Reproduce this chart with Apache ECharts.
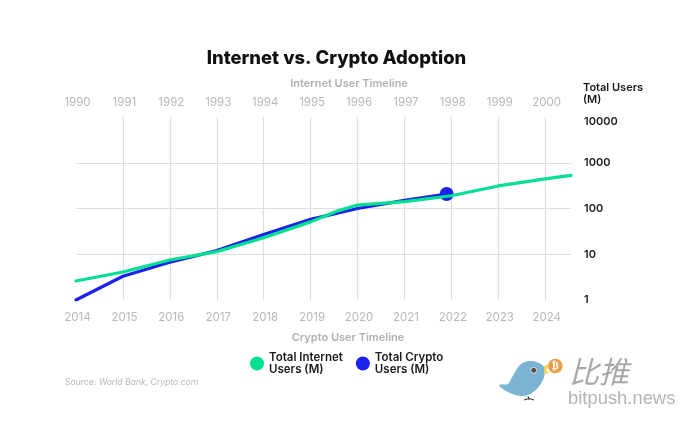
<!DOCTYPE html>
<html>
<head>
<meta charset="utf-8">
<style>html,body{margin:0;padding:0;background:#fff}#main{width:696px;height:426px}</style>
<script src="https://cdn.jsdelivr.net/npm/echarts@6/dist/echarts.min.js"></script>
</head>
<body>
<div id="main"></div>
<script>
const cryptoYears = [2014,2015,2016,2017,2018,2019,2020,2021,2022,2023,2024];
const internetYears = [1990,1991,1992,1993,1994,1995,1996,1997,1998,1999,2000];
const userTicks = [1,10,100,1000,10000];

// 互联网曲线的x都按加密货币时间轴的年份来读
const internetX = [2014,2015,2016,2017,2018,2019,2019.6,2020,2021,2022,2023,2024,2024.55];
const internetUsers = [2.6,4.1,7.5,11.4,23,51,90,119,141,190,311,445,530];
const cryptoX = [2014,2015,2016,2017,2018,2019,2020,2021,2021.9];
const cryptoUsers = [1,3.3,6.7,12,27,58,100,150,207];

const GREEN = '#00e090';
const BLUE = '#1a22ee';
const FONT = 'Inter';
const pairs = (xs, ys) => xs.map((x, i) => [x, ys[i]]);
const yearLabel = (list) => (v) => list.includes(v) ? String(v) : '';

const myChart = echarts.init(document.getElementById('main'));
const gray = (text, x, y, size) => ({
  type: 'text', x, y,
  style: { text, fill: '#b0b0b0', font: `600 ${size}px ${FONT}`, textAlign: 'center', textVerticalAlign: 'middle' }
});
myChart.setOption({
  animation: false,
  backgroundColor: '#fff',
  title: {
    text: 'Internet vs. Crypto Adoption',
    left: 331.5, top: 44, textAlign: 'center',
    textStyle: { fontFamily: FONT, fontSize: 18.4, fontWeight: 800, color: '#111' }
  },
  grid: { left: 76, right: 125, top: 117, bottom: 126 },
  legend: {
    left: 245, top: 346, itemWidth: 14, itemHeight: 14, itemGap: 13,
    data: [
      { name: 'Total Internet\nUsers (M)', icon: 'circle' },
      { name: 'Total Crypto\nUsers (M)', icon: 'circle' }
    ],
    textStyle: { fontFamily: FONT, fontSize: 11.5, fontWeight: 600, color: '#1a1a1a', lineHeight: 12.5 }
  },
  xAxis: [
    {
      type: 'value', position: 'bottom', min: 2014, max: 2024.55, interval: 1,
      axisLine: { show: false }, axisTick: { show: false },
      axisLabel: { formatter: yearLabel(cryptoYears), color: '#b8b8b8', fontFamily: FONT, fontSize: 11.5, margin: 12, padding: [0, 0, 0, 3] },
      splitLine: { show: true, showMinLine: false, showMaxLine: false, lineStyle: { color: '#dedede', width: 1.2 } }
    },
    {
      type: 'value', position: 'top', min: 1990, max: 2000.55, interval: 1,
      axisLine: { show: false }, axisTick: { show: false },
      axisLabel: { formatter: yearLabel(internetYears), color: '#b8b8b8', fontFamily: FONT, fontSize: 11.5, margin: 8, padding: [0, 0, 0, 3] },
      splitLine: { show: false }
    }
  ],
  yAxis: {
    type: 'log', logBase: 10, position: 'right', min: 1, max: 10000,
    axisLine: { show: false }, axisTick: { show: false }, minorTick: { show: false },
    axisLabel: {
      margin: 13,
      formatter: (v) => userTicks.includes(v) ? (v === 10000 ? `{top|${v}}` : String(v)) : '',
      color: '#222', fontFamily: FONT, fontSize: 11, fontWeight: 600,
      rich: { top: { padding: [9, 0, 0, 0], color: '#222', fontFamily: FONT, fontSize: 11, fontWeight: 600 } }
    },
    splitLine: { show: true, showMinLine: false, showMaxLine: false, lineStyle: { color: '#dedede', width: 1.2 } }
  },
  series: [
    {
      name: 'Total Internet\nUsers (M)', type: 'line', data: pairs(internetX, internetUsers), z: 3,
      symbol: 'none', color: GREEN, lineStyle: { width: 3.2, color: GREEN, cap: 'round' }
    },
    {
      name: 'Total Crypto\nUsers (M)', type: 'line', data: pairs(cryptoX, cryptoUsers), z: 2,
      showSymbol: true, showAllSymbol: true, symbol: 'circle',
      symbolSize: (v, p) => p.dataIndex === cryptoX.length - 1 ? 14 : 0,
      color: BLUE, itemStyle: { color: BLUE }, lineStyle: { width: 3.2, color: BLUE, cap: 'round' }
    }
  ],
  graphic: [
    gray('Internet User Timeline', 349, 84, 11),
    gray('Crypto User Timeline', 348, 338, 11),
    {
      type: 'text', x: 583, y: 81,
      style: { text: 'Total Users\n(M)', fill: '#1a1a1a', font: `600 11px ${FONT}`, lineHeight: 12.5 }
    },
    {
      type: 'text', x: 65, y: 382,
      style: {
        text: 'Source: {i|World Bank, Crypto.com}', fill: '#b8b8b8', font: `400 8.6px ${FONT}`, textVerticalAlign: 'middle',
        rich: { i: { fill: '#b8b8b8', fontStyle: 'italic', fontFamily: FONT, fontSize: 8.6 } }
      }
    },
    // 水印
    { type: 'polygon', shape: { smooth: 0.35, points: [[499, 385], [508, 384], [511, 379], [521, 364], [532, 361], [544, 367], [543, 380], [532, 393], [521, 396], [508, 392]] }, style: { fill: '#7ab4d2' } },
    { type: 'polygon', shape: { points: [[544, 366], [550, 364], [546, 370], [549, 373], [544, 374]] }, style: { fill: '#f2d24f' } },
    { type: 'circle', shape: { cx: 533.7, cy: 370.3, r: 3 }, style: { fill: '#5b4a48', stroke: '#e4e4e4', lineWidth: 1 } },
    { type: 'line', shape: { x1: 528, y1: 396, x2: 529, y2: 400 }, style: { stroke: '#333', lineWidth: 1 } },
    { type: 'polyline', shape: { points: [[524, 400], [529, 398.5], [534, 400]] }, style: { fill: 'none', stroke: '#333', lineWidth: 1 } },
    { type: 'circle', shape: { cx: 555.3, cy: 366, r: 7.3 }, style: { fill: '#e9a14b' } },
    { type: 'text', x: 555.3, y: 366, style: { text: '₿', fill: '#fff', font: `700 10px "DejaVu Sans"`, textAlign: 'center', textVerticalAlign: 'middle' } },
    { type: 'text', x: 569, y: 372, style: { text: '比推', fill: '#a8a8a8', font: `italic 400 30px "Noto Sans CJK SC"`, textVerticalAlign: 'middle' } },
    { type: 'text', x: 568, y: 399, style: { text: 'bitpush.news', fill: '#b4b4b4', font: `400 18.4px "Liberation Sans"`, textVerticalAlign: 'middle' } }
  ]
});
</script>
</body>
</html>
